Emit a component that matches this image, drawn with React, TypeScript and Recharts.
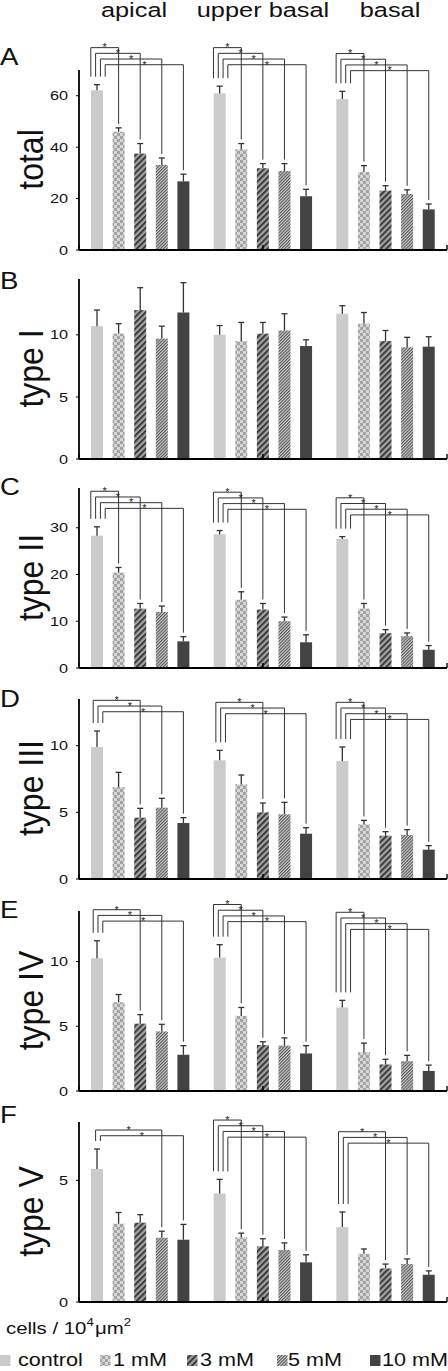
import React from "react";
import { BarChart, Bar, XAxis, YAxis } from "recharts";

const groups = ["apical", "upper basal", "basal"];
const doses = ["control", "1 mM", "3 mM", "5 mM", "10 mM"];

// A: total
const totalMean = [
  [62.1, 46.0, 37.5, 33.1, 26.7],
  [60.9, 39.2, 31.8, 30.7, 20.9],
  [58.7, 30.3, 23.1, 21.8, 15.8],
];
const totalSem = [
  [2.2, 1.5, 3.9, 2.7, 2.8],
  [2.8, 2.2, 1.8, 2.9, 2.7],
  [3.0, 2.5, 1.9, 1.6, 2.1],
];
const totalSig = [[1, 2, 3, 4], [1, 2, 3, 4], [1, 2, 3, 4]];
const totalSigTop = [78.7, 78.7, 76.4];
const totalTicks = [0, 20, 40, 60];

// B: type I
const type1Mean = [
  [10.7, 10.1, 12.0, 9.7, 11.8],
  [10.0, 9.5, 10.1, 10.35, 9.1],
  [11.7, 10.9, 9.5, 9.0, 9.05],
];
const type1Sem = [
  [1.3, 0.8, 1.8, 1.0, 2.4],
  [0.75, 1.5, 0.9, 1.35, 0.5],
  [0.65, 0.9, 0.85, 0.8, 0.8],
];
const type1Sig = [[], [], []];
const type1SigTop = [0, 0, 0];
const type1Ticks = [0, 5, 10];

// C: type II
const type2Mean = [
  [28.3, 20.4, 12.7, 12.0, 5.7],
  [28.6, 14.6, 12.5, 10.0, 5.5],
  [27.6, 12.7, 7.45, 6.8, 3.9],
];
const type2Sem = [
  [1.9, 1.1, 1.1, 1.25, 1.0],
  [0.8, 1.7, 1.3, 0.9, 1.6],
  [0.5, 1.1, 0.75, 0.7, 0.9],
];
const type2Sig = [[1, 2, 3, 4], [1, 2, 3, 4], [1, 2, 3, 4]];
const type2SigTop = [37.8, 37.6, 36.4];
const type2Ticks = [0, 10, 20, 30];

// D: type III
const type3Mean = [
  [9.9, 6.9, 4.6, 5.35, 4.2],
  [8.9, 7.1, 5.0, 4.85, 3.4],
  [8.85, 4.1, 3.25, 3.3, 2.2],
];
const type3Sem = [
  [1.2, 1.1, 0.7, 0.7, 0.4],
  [0.75, 0.7, 0.7, 0.9, 0.45],
  [1.05, 0.3, 0.3, 0.4, 0.3],
];
const type3Sig = [[2, 3, 4], [2, 3, 4], [1, 2, 3, 4]];
const type3SigTop = [13.4, 13.25, 13.25];
const type3Ticks = [0, 5, 10];

// E: type IV
const type4Mean = [
  [10.25, 6.85, 5.2, 4.6, 2.8],
  [10.3, 5.8, 3.55, 3.5, 2.9],
  [6.45, 3.0, 2.05, 2.3, 1.55],
];
const type4Sem = [
  [1.35, 0.6, 0.7, 0.55, 0.7],
  [1.0, 0.65, 0.25, 0.6, 0.6],
  [0.55, 0.7, 0.4, 0.45, 0.45],
];
const type4Sig = [[2, 3, 4], [1, 2, 3, 4], [1, 2, 3, 4]];
const type4SigTop = [14.0, 14.4, 13.8];
const type4Ticks = [0, 5, 10];

// F: type V
const type5Mean = [
  [5.47, 3.22, 3.26, 2.64, 2.56],
  [4.46, 2.66, 2.29, 2.14, 1.63],
  [3.08, 1.98, 1.38, 1.56, 1.12],
];
const type5Sem = [
  [0.82, 0.46, 0.33, 0.27, 0.63],
  [0.58, 0.17, 0.31, 0.29, 0.31],
  [0.62, 0.2, 0.18, 0.21, 0.16],
];
const type5Sig = [[3, 4], [1, 2, 3, 4], [2, 3, 4]];
const type5SigTop = [7.07, 7.48, 7.0];
const type5Ticks = [0, 5];

const FILLS = [
  "#cbcbcb",
  "url(#pat-checker)",
  "url(#pat-wide)",
  "url(#pat-fine)",
  "#434343",
];

const FONT = "'Liberation Sans', Arial, sans-serif";
const INK = "#333";
const BAR_SIZE = 12;
const BAR_GAP = 9.6;
const STEP = BAR_SIZE + BAR_GAP;
const PLOT_H = 179;
const TOP_PAD = 60;

function buildRows(mean: number[][], sem: number[][], sig: number[][], sigTop: number[]) {
  return groups.map((g, i) => {
    const row: any = { group: g, sig: sig[i], sigTop: sigTop[i] };
    doses.forEach((_, k) => {
      row[`c${k}`] = mean[i][k];
      row[`e${k}`] = sem[i][k];
    });
    return row;
  });
}

const panels = [
  { letter: "A", label: "total", rows: buildRows(totalMean, totalSem, totalSig, totalSigTop), yMax: 70, ticks: totalTicks, top: 70, letterY: 65 },
  { letter: "B", label: "type I", rows: buildRows(type1Mean, type1Sem, type1Sig, type1SigTop), yMax: 14.5, ticks: type1Ticks, top: 279, letterY: 289 },
  { letter: "C", label: "type II", rows: buildRows(type2Mean, type2Sem, type2Sig, type2SigTop), yMax: 38.5, ticks: type2Ticks, top: 488, letterY: 495 },
  { letter: "D", label: "type III", rows: buildRows(type3Mean, type3Sem, type3Sig, type3SigTop), yMax: 13.5, ticks: type3Ticks, top: 698.5, letterY: 707 },
  { letter: "E", label: "type IV", rows: buildRows(type4Mean, type4Sem, type4Sig, type4SigTop), yMax: 13.9, ticks: type4Ticks, top: 911, letterY: 918 },
  { letter: "F", label: "type V", rows: buildRows(type5Mean, type5Sem, type5Sig, type5SigTop), yMax: 7.4, ticks: type5Ticks, top: 1122, letterY: 1123 },
];

// bar + upward error bar + significance bracket back to the control bar
function makeShape(k: number) {
  return (props: any) => {
    const { x, y, width, height, payload } = props;
    const v = payload[`c${k}`];
    if (!v || !height) return <g />;
    const ppu = height / v;
    const base = y + height;
    const cx = x + width / 2;
    const errTop = y - payload[`e${k}`] * ppu;
    const sig: number[] = payload.sig;
    const j = sig.indexOf(k);
    let bracket = null;
    if (j >= 0) {
      const n = sig.length;
      const ctrlCx = cx - k * STEP;
      const lx = ctrlCx + 1 + (j - (n - 1) / 2) * 4.8;
      const ly = base - payload.sigTop * ppu + j * 5.7;
      const ctrlTop = base - (payload.c0 + payload.e0) * ppu;
      bracket = (
        <g>
          <path
            d={`M${lx},${ctrlTop - 8} V${ly} H${cx} V${errTop - 4}`}
            fill="none"
            stroke={INK}
            strokeWidth={1}
          />
          <g opacity={0.99}>
            <text
              transform={`translate(${(lx + cx) / 2} ${ly + 3.8}) scale(1.1 1)`}
              textAnchor="middle"
              fontSize={10}
              fontFamily={FONT}
              fill="#222"
            >
              *
            </text>
          </g>
        </g>
      );
    }
    return (
      <g>
        <rect x={x} y={y} width={width} height={height} fill={FILLS[k]} />
        <line x1={cx} x2={cx} y1={y} y2={errTop} stroke={INK} strokeWidth={1.3} />
        <line x1={cx - 3} x2={cx + 3} y1={errTop} y2={errTop} stroke={INK} strokeWidth={1.3} />
        {bracket}
      </g>
    );
  };
}

const YTick = (props: any) => {
  const { x, y, payload } = props;
  return (
    <text
      transform={`translate(${x} ${y + 4.6}) scale(1.25 1)`}
      textAnchor="end"
      fontSize={13}
      fontFamily={FONT}
      fill="#111"
    >
      {payload.value}
    </text>
  );
};

function Panel({ panel }: { panel: (typeof panels)[number] }) {
  return (
    <div style={{ position: "absolute", left: 0, top: panel.top - TOP_PAD }}>
      <BarChart
        width={448}
        height={TOP_PAD + PLOT_H + 8}
        data={panel.rows}
        margin={{ top: TOP_PAD, right: 1, bottom: 7, left: 0 }}
        barGap={BAR_GAP}
      >
        <XAxis dataKey="group" hide />
        <XAxis
          xAxisId="grid"
          type="number"
          domain={[0, 3]}
          ticks={[0, 1, 2, 3]}
          interval={0}
          mirror
          height={1}
          tickSize={5}
          tickFormatter={() => ""}
          axisLine={{ stroke: "#000", strokeWidth: 1.8 }}
          tickLine={{ stroke: "#000", strokeWidth: 1.4 }}
        />
        <YAxis
          domain={[0, panel.yMax]}
          ticks={panel.ticks}
          interval={0}
          width={79}
          tickSize={3}
          tickMargin={8}
          axisLine={{ stroke: "#000", strokeWidth: 1.8 }}
          tickLine={{ stroke: "#000" }}
          tick={<YTick />}
        />
        {doses.map((d, k) => (
          <Bar
            key={d}
            dataKey={`c${k}`}
            name={d}
            barSize={BAR_SIZE}
            fill={FILLS[k]}
            shape={makeShape(k)}
            isAnimationActive={false}
          />
        ))}
      </BarChart>
    </div>
  );
}

const headerX = [134, 263, 390];
const legendSwatchX = [0, 100, 187, 277, 370];
const legendTextX = [18, 113, 200, 288, 382];

export default function App() {
  return (
    <div
      style={{
        position: "absolute",
        left: 0,
        top: 0,
        width: 448,
        height: 1371,
        background: "#fff",
        overflow: "hidden",
      }}
    >
      <svg width={0} height={0} style={{ position: "absolute" }}>
        <defs>
          <pattern id="pat-checker" patternUnits="userSpaceOnUse" width={6} height={6}>
            <rect width={6} height={6} fill="#d6d6d6" />
            <rect width={3} height={3} fill="#a4a4a4" />
            <rect x={3} y={3} width={3} height={3} fill="#a4a4a4" />
          </pattern>
          <pattern id="pat-wide" patternUnits="userSpaceOnUse" width={4.2} height={4.2} patternTransform="rotate(45)">
            <rect width={4.2} height={4.2} fill="#a3a3a3" />
            <rect width={2} height={4.2} fill="#3a3a3a" />
          </pattern>
          <pattern id="pat-fine" patternUnits="userSpaceOnUse" width={2.2} height={2.2} patternTransform="rotate(45)">
            <rect width={2.2} height={2.2} fill="#d2d2d2" />
            <rect width={1.1} height={2.2} fill="#555" />
          </pattern>
        </defs>
      </svg>

      {panels.map((p) => (
        <Panel key={p.letter} panel={p} />
      ))}

      <svg
        width={448}
        height={1371}
        style={{ position: "absolute", left: 0, top: 0, pointerEvents: "none" }}
        fontFamily={FONT}
      >
        {groups.map((g, i) => (
          <text
            key={g}
            transform={`translate(${headerX[i]} 17) scale(1.3 1)`}
            textAnchor="middle"
            fontSize={19.5}
            fill="#111"
          >
            {g}
          </text>
        ))}
        {panels.map((p) => (
          <g key={p.letter}>
            <text transform={`translate(0 ${p.letterY}) scale(1.15 1)`} fontSize={24} fill="#111">
              {p.letter}
            </text>
            <text
              transform={`translate(43 ${p.top + PLOT_H / 2}) scale(1.08 1) rotate(-90)`}
              textAnchor="middle"
              fontSize={32}
              fill="#111"
            >
              {p.label}
            </text>
          </g>
        ))}
        <text transform="translate(6 1334) scale(1.2 1)" fontSize={17} fill="#111">
          cells / 10
          <tspan fontSize={11} dy={-8}>4</tspan>
          <tspan fontSize={17} dy={8} dx={1}>μm</tspan>
          <tspan fontSize={11} dy={-8}>2</tspan>
        </text>
        {doses.map((d, k) => (
          <g key={d}>
            <rect x={legendSwatchX[k]} y={1355} width={10.5} height={11} fill={FILLS[k]} />
            <text transform={`translate(${legendTextX[k]} 1366) scale(1.2 1)`} fontSize={18} fill="#111">
              {d}
            </text>
          </g>
        ))}
      </svg>
    </div>
  );
}
